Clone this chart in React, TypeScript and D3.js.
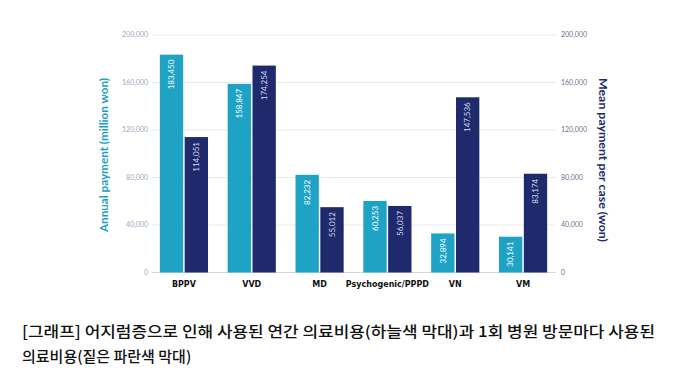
import React from "react";
import * as d3 from "d3";

const categories = ["BPPV", "VVD", "MD", "Psychogenic/PPPD", "VN", "VM"];
const annualPayment = [183450, 158847, 82232, 60253, 32894, 30141];
const meanPayment = [114051, 174254, 55012, 56037, 147536, 83174];
const yTicks = [0, 40000, 80000, 120000, 160000, 200000];
const captionLines = [
  "[그래프] 어지럼증으로 인해 사용된 연간 의료비용(하늘색 막대)과 1회 병원 방문마다 사용된",
  "의료비용(짙은 파란색 막대)",
];

const W = 680;
const H = 383;
const LIGHT = "#1ea3c5";
const DARK = "#1e2a6c";
const FONT = "Lato, 'Open Sans', sans-serif";

export default function App() {
  const x = d3.scaleBand<string>().domain(categories).range([150, 557]).paddingInner(0.29).paddingOuter(0.145);
  const sub = d3.scaleBand<string>().domain(["a", "m"]).range([0, x.bandwidth()]).paddingInner(0.06);
  const yL = d3.scaleLinear().domain([0, 200000]).range([272.5, 35]);
  const yR = d3.scaleLinear().domain([0, 200000]).range([272.5, 35]);
  const fmt = d3.format(",");

  const series = [
    { key: "a", values: annualPayment, color: LIGHT, scale: yL, label: "#ffffff" },
    { key: "m", values: meanPayment, color: DARK, scale: yR, label: "#d6dbf0" },
  ];

  return (
    <svg width={W} height={H} style={{ position: "absolute", left: 0, top: 0, background: "#fff" }}>
      {yTicks.map((t) => (
        <g key={t}>
          <line x1={152} x2={556} y1={yL(t)} y2={yL(t)} stroke={t === 0 ? "#d4d7dc" : "#e9eaed"} strokeWidth={1} />
          <text x={148} y={yL(t)} dy="0.35em" textAnchor="end" fontSize={7} fill="#9aa8bd" fontFamily={FONT}>
            {fmt(t)}
          </text>
          <text x={561} y={yR(t)} dy="0.35em" textAnchor="start" fontSize={7} fill="#6c7393" fontFamily={FONT}>
            {fmt(t)}
          </text>
        </g>
      ))}
      {series.map((s) =>
        categories.map((c, i) => {
          const bx = (x(c) as number) + (sub(s.key) as number);
          const bw = sub.bandwidth();
          const top = s.scale(s.values[i]);
          const cx = bx + bw / 2;
          return (
            <g key={s.key + c}>
              <rect x={bx} y={top} width={bw} height={s.scale(0) - top} fill={s.color} />
              <text
                transform={`translate(${cx},${top + 5}) rotate(-90)`}
                textAnchor="end"
                dy="0.35em"
                fontSize={8}
                fill={s.label}
                fontFamily={FONT}
              >
                {fmt(s.values[i])}
              </text>
            </g>
          );
        })
      )}
      {categories.map((c) => (
        <text
          key={c}
          x={(x(c) as number) + x.bandwidth() / 2}
          y={287}
          textAnchor="middle"
          fontSize={8}
          fontWeight="bold"
          fill="#111"
          fontFamily="'DejaVu Sans', sans-serif"
        >
          {c}
        </text>
      ))}
      <text
        transform={`translate(104,155) rotate(-90)`}
        textAnchor="middle"
        dy="0.35em"
        fontSize={11.5}
        fontWeight="bold"
        fill="#1a9fc2"
        fontFamily={FONT}
        textLength={154}
        lengthAdjust="spacingAndGlyphs"
      >
        Annual payment (million won)
      </text>
      <text
        transform={`translate(603,160) rotate(90)`}
        textAnchor="middle"
        dy="0.35em"
        fontSize={11.5}
        fontWeight="bold"
        fill="#1e2a6c"
        fontFamily={FONT}
        textLength={164}
        lengthAdjust="spacingAndGlyphs"
      >
        Mean payment per case (won)
      </text>
      {captionLines.map((l, i) => (
        <text
          key={i}
          x={22}
          y={337 + i * 25}
          fontSize={15}
          fontWeight={500}
          fill="#111"
          fontFamily="'Noto Sans CJK KR', sans-serif"
          {...(i === 0 ? { textLength: 633, lengthAdjust: "spacingAndGlyphs" } : {})}
        >
          {l}
        </text>
      ))}
    </svg>
  );
}
